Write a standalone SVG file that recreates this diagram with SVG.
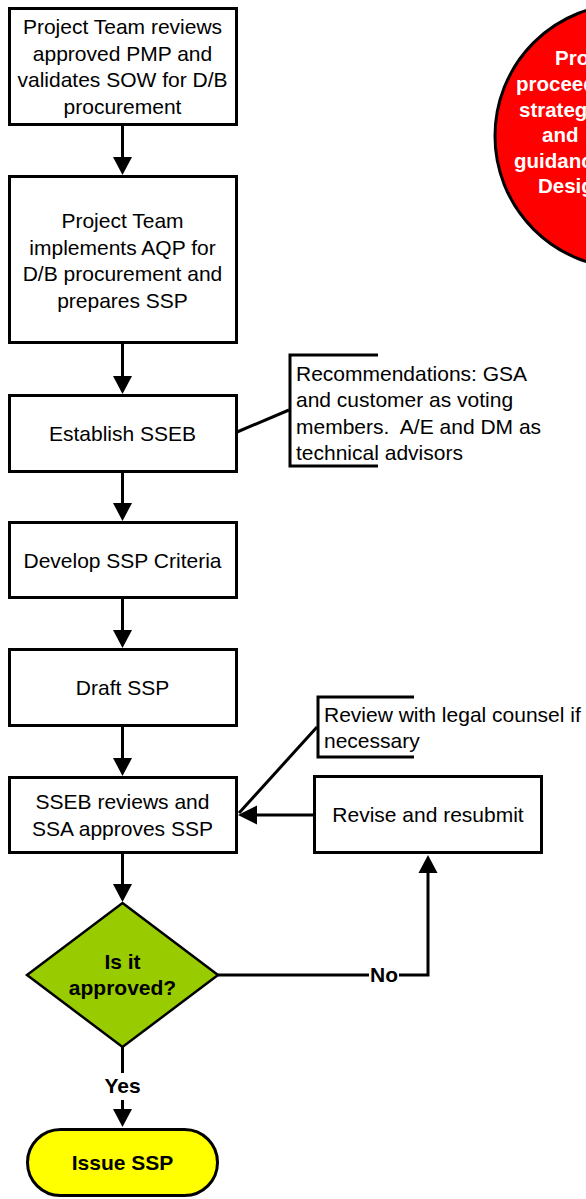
<svg xmlns="http://www.w3.org/2000/svg" width="586" height="1199" viewBox="0 0 586 1199">
<style>
.box{fill:#fff;stroke:#000;stroke-width:3}
.t{font-family:"Liberation Sans",Arial,sans-serif;font-size:21px;fill:#000;text-anchor:middle}
.tl{font-family:"Liberation Sans",Arial,sans-serif;font-size:21px;fill:#000}
.b{font-weight:bold}
.ln{fill:none;stroke:#000;stroke-width:3}
.ah{fill:#000}
.wt{font-family:"Liberation Sans",Arial,sans-serif;font-size:20.5px;font-weight:bold;fill:#fff}
</style>
<rect width="586" height="1199" fill="#fff"/>

<g id="circle">
<circle cx="627" cy="136" r="132" fill="#FF0000" stroke="#000" stroke-width="3"/>
<text class="wt" x="555" y="65">Project</text>
<text class="wt" x="516" y="91">proceeds</text>
<text class="wt" x="519" y="117">strategy</text>
<text class="wt" x="542" y="142">and</text>
<text class="wt" x="514" y="168">guidance</text>
<text class="wt" x="538" y="193">Design</text>
</g>

<g id="connectors">
<path class="ln" d="M122.5,126 V158"/>
<polygon class="ah" points="113,157 132,157 122.5,175"/>
<path class="ln" d="M122.5,343 V377"/>
<polygon class="ah" points="113,376 132,376 122.5,394"/>
<path class="ln" d="M122.5,472 V504"/>
<polygon class="ah" points="113,503 132,503 122.5,521"/>
<path class="ln" d="M122.5,598 V631"/>
<polygon class="ah" points="113,630 132,630 122.5,648"/>
<path class="ln" d="M122.5,726 V759"/>
<polygon class="ah" points="113,758 132,758 122.5,776"/>
<path class="ln" d="M122.5,853 V885"/>
<polygon class="ah" points="113,884 132,884 122.5,902"/>
<path class="ln" d="M122.5,1047 V1073 M122.5,1100 V1110"/>
<polygon class="ah" points="113,1109 132,1109 122.5,1127"/>
<path class="ln" d="M218,975 H428 V872"/>
<polygon class="ah" points="418.5,873 437.5,873 428,855"/>
<path class="ln" d="M314,815 H256"/>
<polygon class="ah" points="257,805.5 257,824.5 238,815"/>
<path class="ln" d="M237,432 L289,410"/>
<path class="ln" d="M317,727 L239,813"/>
<rect x="369" y="964" width="30" height="22" fill="#fff"/>
<text class="t b" x="384" y="982">No</text>
<text class="t b" x="122.5" y="1093">Yes</text>
</g>

<g id="n1">
<rect class="box" x="9.5" y="8.5" width="227" height="116"/>
<text class="t" x="122.5" y="34">Project Team reviews</text>
<text class="t" x="122.5" y="60.5">approved PMP and</text>
<text class="t" x="122.5" y="87">validates SOW for D/B</text>
<text class="t" x="122.5" y="113.5">procurement</text>
</g>

<g id="n2">
<rect class="box" x="9.5" y="176.5" width="227" height="166"/>
<text class="t" x="122.5" y="228">Project Team</text>
<text class="t" x="122.5" y="254.5">implements AQP for</text>
<text class="t" x="122.5" y="281">D/B procurement and</text>
<text class="t" x="122.5" y="307.5">prepares SSP</text>
</g>

<g id="n3">
<rect class="box" x="9.5" y="395.5" width="227" height="76"/>
<text class="t" x="122.5" y="441">Establish SSEB</text>
</g>

<g id="note1">
<path class="ln" d="M378,355 H290 V466 H378"/>
<text class="tl" x="296" y="381">Recommendations: GSA</text>
<text class="tl" x="296" y="407">and customer as voting</text>
<text class="tl" x="296" y="434">members.&#160; A/E and DM as</text>
<text class="tl" x="296" y="460">technical advisors</text>
</g>

<g id="n4">
<rect class="box" x="9.5" y="522.5" width="227" height="75"/>
<text class="t" x="122.5" y="567.5">Develop SSP Criteria</text>
</g>

<g id="n5">
<rect class="box" x="9.5" y="649.5" width="227" height="76"/>
<text class="t" x="122.5" y="695">Draft SSP</text>
</g>

<g id="note2">
<path class="ln" d="M414,697 H318 V757 H414"/>
<text class="tl" x="324" y="722">Review with legal counsel if</text>
<text class="tl" x="324" y="748">necessary</text>
</g>

<g id="n6">
<rect class="box" x="9.5" y="777.5" width="227" height="75"/>
<text class="t" x="122.5" y="809">SSEB reviews and</text>
<text class="t" x="122.5" y="835.5">SSA approves SSP</text>
</g>

<g id="n7">
<rect class="box" x="314.5" y="776.5" width="227" height="76"/>
<text class="t" x="428" y="822">Revise and resubmit</text>
</g>

<g id="decision">
<polygon points="122.5,903 218,975 122.5,1047 27,975" fill="#99CC00" stroke="#000" stroke-width="2.5"/>
<text class="t b" x="122.5" y="969">Is it</text>
<text class="t b" x="122.5" y="995">approved?</text>
</g>

<g id="end">
<rect x="27.5" y="1129.5" width="190" height="66" rx="33" fill="#FFFF00" stroke="#000" stroke-width="3"/>
<text class="t b" x="122.5" y="1170">Issue SSP</text>
</g>
</svg>
